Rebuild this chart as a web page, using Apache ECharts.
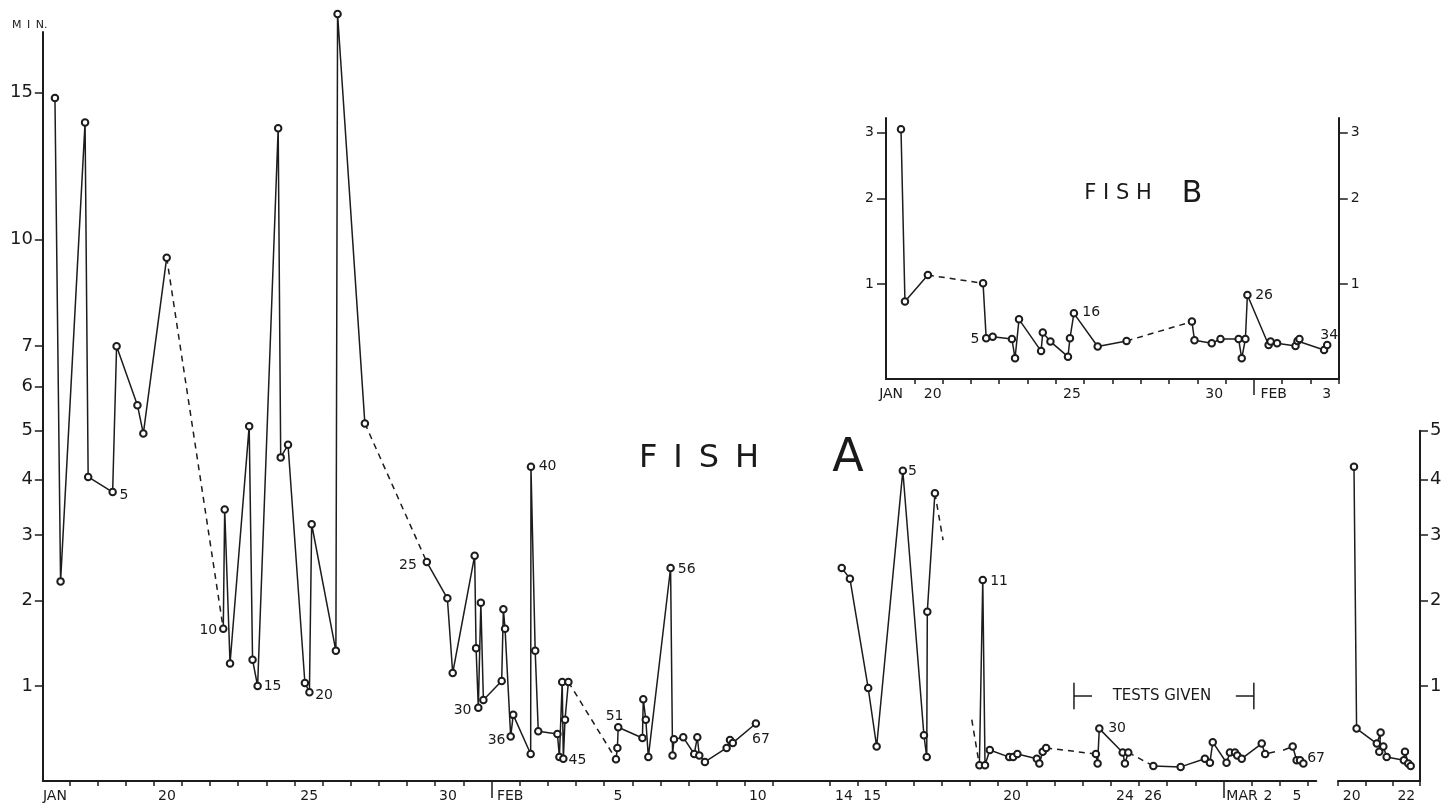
<!DOCTYPE html>
<html>
<head>
<meta charset="utf-8">
<script src="https://cdn.jsdelivr.net/npm/echarts@6/dist/echarts.min.js"></script>
<style>html,body{margin:0;padding:0;background:#fff}#c{width:1448px;height:807px}</style>
</head>
<body>
<div id="c"></div>
<script>
// ---------------- DATA (x = day slot on the drawn axis, y = minutes) ----------------
// FISH A, main panel (Jan 16 .. Mar 5, axis compressed after Feb 10 and around Feb 25 / Mar 3-4)
const fishA_run1 = [[0.49,14.8],[0.69,2.27],[1.56,13.9],[1.67,4.05],[2.54,3.76],[2.68,7.0],[3.42,5.57],[3.63,4.94],[4.46,9.45]];
const fishA_run2 = [[6.47,1.63],[6.52,3.44],[6.71,1.23],[7.39,5.10],[7.51,1.27],[7.69,1.0],[8.42,13.7],[8.51,4.44],[8.77,4.70],[9.37,1.03],[9.53,0.94],[9.61,3.18],[10.47,1.37],[10.53,18.1],[11.50,5.16]];
const fishA_run3 = [[13.70,2.56],[14.43,2.03],[14.62,1.13],[15.40,2.66],[15.45,1.40],[15.53,0.80],[15.62,1.97],[15.71,0.87],[16.36,1.05],[16.42,1.88],[16.48,1.63],[16.68,0.57],[16.77,0.74],[17.39,0.45],[17.40,4.25],[17.55,1.37],[17.66,0.61],[18.34,0.59],[18.41,0.43],[18.51,1.04],[18.55,0.42],[18.61,0.70],[18.73,1.04]];
const fishA_run4 = [[20.42,0.416],[20.47,0.49],[20.50,0.64],[21.36,0.56],[21.39,0.875],[21.48,0.70],[21.57,0.43],[22.36,2.47],[22.43,0.44],[22.48,0.55],[22.81,0.565],[23.20,0.45],[23.31,0.565],[23.38,0.44],[23.58,0.40],[24.35,0.49],[24.47,0.545],[24.57,0.525],[25.39,0.67]];
const fishA_run5 = [[28.44,2.47],[28.73,2.31],[29.38,0.98],[29.68,0.50],[30.61,4.17],[31.36,0.58],[31.46,0.43],[31.48,1.85],[31.75,3.74]];
const fishA_run6 = [[33.33,0.38],[33.45,2.29],[33.53,0.38],[33.70,0.476],[34.39,0.43],[34.53,0.43],[34.68,0.45],[35.37,0.42],[35.46,0.39],[35.58,0.465],[35.70,0.49]];
const fishA_run7 = [[37.47,0.45],[37.53,0.39],[37.59,0.63],[38.42,0.46],[38.50,0.39],[38.62,0.46]];
const fishA_run8 = [[39.51,0.375],[40.48,0.37],[41.34,0.42],[41.52,0.395],[41.62,0.53],[42.11,0.395],[42.23,0.46],[42.41,0.46],[42.49,0.44],[42.65,0.42],[43.36,0.52],[43.48,0.45]];
const fishA_run9 = [[44.46,0.50],[44.60,0.41],[44.72,0.41],[44.84,0.39]];
const fishA_dashed = [
  [[4.46,9.45],[6.47,1.63]], [[11.50,5.16],[13.70,2.56]], [[18.73,1.04],[20.42,0.416]],
  [[31.75,3.74],[32.04,2.91]], [[33.06,0.70],[33.33,0.38]], [[35.70,0.49],[37.47,0.45]], [[38.62,0.46],[39.51,0.375]]
];
const fishA_openEnds = [[[43.48,0.45],[43.83,0.465]], [[44.12,0.475],[44.46,0.50]]];
// FISH A, last panel (Mar 20 .. 22)
const fishA_late = [[0.585,4.25],[0.68,0.63],[1.42,0.52],[1.56,0.60],[1.51,0.465],[1.66,0.50],[1.78,0.43],[2.41,0.41],[2.45,0.465],[2.57,0.39],[2.66,0.375]];
// FISH B inset (Jan 19 .. Feb 3)
const fishB_run1 = [[0.53,3.06],[0.67,0.837],[1.48,1.089]];
const fishB_run2 = [[3.43,1.007],[3.54,0.543],[3.77,0.555],[4.45,0.538],[4.56,0.41],[4.70,0.687],[5.48,0.456],[5.54,0.585],[5.81,0.52],[6.43,0.42],[6.50,0.543],[6.64,0.736],[7.48,0.486],[8.50,0.524]];
const fishB_run3 = [[10.81,0.669],[10.90,0.53],[11.51,0.508],[11.82,0.538],[12.46,0.538],[12.57,0.41],[12.70,0.538],[12.77,0.896],[13.52,0.496],[13.59,0.52],[13.82,0.508],[14.47,0.49],[14.54,0.524],[14.61,0.538],[15.48,0.463],[15.59,0.496]];
const fishB_dashed = [[[1.48,1.089],[3.43,1.007]], [[8.50,0.524],[10.81,0.669]]];
// Trial-number annotations [x, minutes, text]
const fishA_notes = [[2.94,3.705,'5'],[5.94,1.616,'10'],[8.22,0.993,'15'],[10.05,0.915,'20'],[13.03,2.505,'25'],[14.97,0.781,'30'],[16.18,0.545,'36'],[17.99,4.25,'40'],[19.05,0.412,'45'],[20.37,0.725,'51'],[22.93,2.45,'56'],[25.57,0.552,'67'],[30.95,4.153,'5'],[34.03,2.265,'11'],[38.22,0.632,'30'],[45.29,0.4225,'67']];
const fishB_notes = [[3.14,0.538,'5'],[7.25,0.745,'16'],[13.36,0.896,'26'],[15.66,0.563,'34']];
const testsGiven = {from: 36.69, to: 43.08, level: 0.9055, text: 'TESTS GIVEN'};
// Axis ticks and labels
const mainYTicks = [1,2,3,4,5,6,7,10,15];
const lateYTicks = [1,2,3,4,5];
const insetYTicks = [1,2,3];
const mainXTickSkip = [27];
const mainXLabels = [[0.49,'JAN'],[4.47,'20'],[9.52,'25'],[14.45,'30'],[16.66,'FEB'],[20.49,'5'],[25.46,'10'],[28.52,'14'],[29.52,'15'],[34.49,'20'],[38.5,'24'],[39.5,'26'],[42.66,'MAR'],[43.58,'2'],[44.61,'5']];
const mainXMonthTicks = [16, 42];
const lateXLabels = [[0.5,'20'],[2.5,'22']];
const insetXLabels = [[0.18,'JAN'],[1.65,'20'],[6.57,'25'],[11.6,'30'],[13.7,'FEB'],[15.57,'3']];
const insetXMonthTicks = [13];

// ---------------- RENDER ----------------
const FONT = 'DejaVu Sans';
const INK = '#1c1c1c';
const TXT = '#1a1a1a';
const S = Math.sqrt;  // square-root minute scale used by the original figure
const lab = (arr, v) => { const f = arr.find(d => Math.abs(d[0] - v) < 1e-6); return f ? f[1] : ''; };
const range = (a, b) => { const r = []; for (let i = a; i <= b; i++) r.push(i); return r; };

function line(pts, xi, yi, opt) {
  opt = opt || {};
  return {
    type: 'line', xAxisIndex: xi, yAxisIndex: yi, silent: true, animation: false, clip: false,
    data: pts.map(p => [p[0], S(p[1])]),
    symbol: opt.sym === false ? 'none' : 'emptyCircle', symbolSize: 6.5,
    lineStyle: {color: INK, width: 1.5, type: opt.dashed ? [6, 5] : 'solid'},
    itemStyle: {color: INK, borderWidth: 1.4},
    z: opt.sym === false ? 2 : 3
  };
}
function notes(arr, xi, yi, size) {
  return {
    type: 'scatter', xAxisIndex: xi, yAxisIndex: yi, silent: true, animation: false, clip: false,
    symbolSize: 0, data: arr.map(d => [d[0], S(d[1]), d[2]]),
    itemStyle: {color: TXT},
    label: {show: true, position: 'inside', formatter: p => p.value[2], fontFamily: FONT, fontSize: size,
      color: TXT, textBorderWidth: 0, textBorderColor: 'transparent', opacity: 1}
  };
}
function yAx(grid, min, max, pos, ticks, size, tickLen, margin) {
  const vals = ticks.map(S);
  return {
    type: 'value', gridIndex: grid, min: min, max: max, position: pos,
    axisLine: {show: true, onZero: false, lineStyle: {color: INK, width: 2}},
    axisTick: {show: true, customValues: vals, length: tickLen, lineStyle: {color: INK, width: 1.5}},
    axisLabel: {show: true, customValues: vals, formatter: v => String(Math.round(v * v)), margin: margin,
      fontFamily: FONT, fontSize: size, color: TXT},
    splitLine: {show: false}
  };
}
function xAx(grid, min, max, tickVals, labels, tickLen, showLine) {
  return {
    type: 'value', gridIndex: grid, min: min, max: max, position: 'bottom',
    axisLine: {show: showLine, onZero: false, lineStyle: {color: INK, width: 2}},
    axisTick: {show: true, customValues: tickVals, length: tickLen, lineStyle: {color: INK, width: 1.5}},
    axisLabel: labels ? {show: true, customValues: labels.map(d => d[0]), formatter: v => lab(labels, v), margin: 8,
      fontFamily: FONT, fontSize: 14, color: TXT} : {show: false},
    splitLine: {show: false}
  };
}

const mainTicks = range(1, 45).filter(d => mainXTickSkip.indexOf(d) < 0);
const series = [];
[fishA_run1, fishA_run2, fishA_run3, fishA_run4, fishA_run5, fishA_run6, fishA_run7, fishA_run8, fishA_run9]
  .forEach(r => series.push(line(r, 0, 0)));
fishA_dashed.forEach(r => series.push(line(r, 0, 0, {dashed: true, sym: false})));
fishA_openEnds.forEach(r => series.push(line(r, 0, 0, {sym: false})));
series.push(notes(fishA_notes, 0, 0, 14));
// TESTS GIVEN bracket
const tg = testsGiven, lv = S(tg.level), hi = (lv + 0.064) ** 2, lo = (lv - 0.064) ** 2, arm = 0.64;
[[[tg.from, hi], [tg.from, lo]], [[tg.from, tg.level], [tg.from + arm, tg.level]],
 [[tg.to - arm, tg.level], [tg.to, tg.level]], [[tg.to, hi], [tg.to, lo]]]
  .forEach(r => series.push(line(r, 0, 0, {sym: false})));
series.push(notes([[(tg.from + tg.to) / 2 - 0.07, tg.level, tg.text]], 0, 0, 15));
// late panel
series.push(line(fishA_late, 2, 1));
// inset
[fishB_run1, fishB_run2, fishB_run3].forEach(r => series.push(line(r, 3, 2)));
fishB_dashed.forEach(r => series.push(line(r, 3, 2, {dashed: true, sym: false})));
series.push(notes(fishB_notes, 3, 2, 14));

const option = {
  backgroundColor: '#ffffff',
  animation: false,
  grid: [
    {left: 42.84, top: 32, width: 1273.5, height: 749, outerBoundsMode: 'none'},
    {left: 1338, top: 430.8, width: 82, height: 350.2, outerBoundsMode: 'none'},
    {left: 886, top: 118, width: 452.8, height: 261, outerBoundsMode: 'none'}
  ],
  xAxis: [
    xAx(0, 0.06, 45.3, mainTicks, mainXLabels, 5, true),
    xAx(0, 0.06, 45.3, mainXMonthTicks, null, 17, false),
    xAx(1, 0, 3, range(0, 3), lateXLabels, 5, true),
    xAx(2, 0, 16, range(1, 16), insetXLabels, 5, true),
    xAx(2, 0, 16, insetXMonthTicks, null, 16, false)
  ],
  yAxis: [
    yAx(0, 0.54, 4.167, 'left', mainYTicks, 18, 8, 10),
    yAx(1, 0.54, S(5), 'right', lateYTicks, 18, 8, 10),
    yAx(2, 0.54, 1.804, 'left', insetYTicks, 14, 9, 12),
    yAx(2, 0.54, 1.804, 'right', insetYTicks, 14, 9, 12)
  ],
  graphic: [
    {type: 'text', left: 12, top: 20, style: {text: 'M\u2002I\u2002N.', font: '11px "DejaVu Sans"', fill: TXT}},
    {type: 'text', x: 699, y: 459, style: {text: 'F\u2002I\u2002S\u2002H', font: '32px "DejaVu Sans"', fill: TXT, align: 'center', verticalAlign: 'middle'}},
    {type: 'text', x: 848, y: 459, style: {text: 'A', font: '46px "DejaVu Sans"', fill: TXT, align: 'center', verticalAlign: 'middle'}},
    {type: 'text', x: 1118, y: 194, style: {text: 'F I S H', font: '21px "DejaVu Sans"', fill: TXT, align: 'center', verticalAlign: 'middle'}},
    {type: 'text', x: 1192, y: 194, style: {text: 'B', font: '30px "DejaVu Sans"', fill: TXT, align: 'center', verticalAlign: 'middle'}}
  ],
  series: series
};
const chart = echarts.init(document.getElementById('c'), null, {renderer: 'canvas'});
chart.setOption(option);
</script>
</body>
</html>
